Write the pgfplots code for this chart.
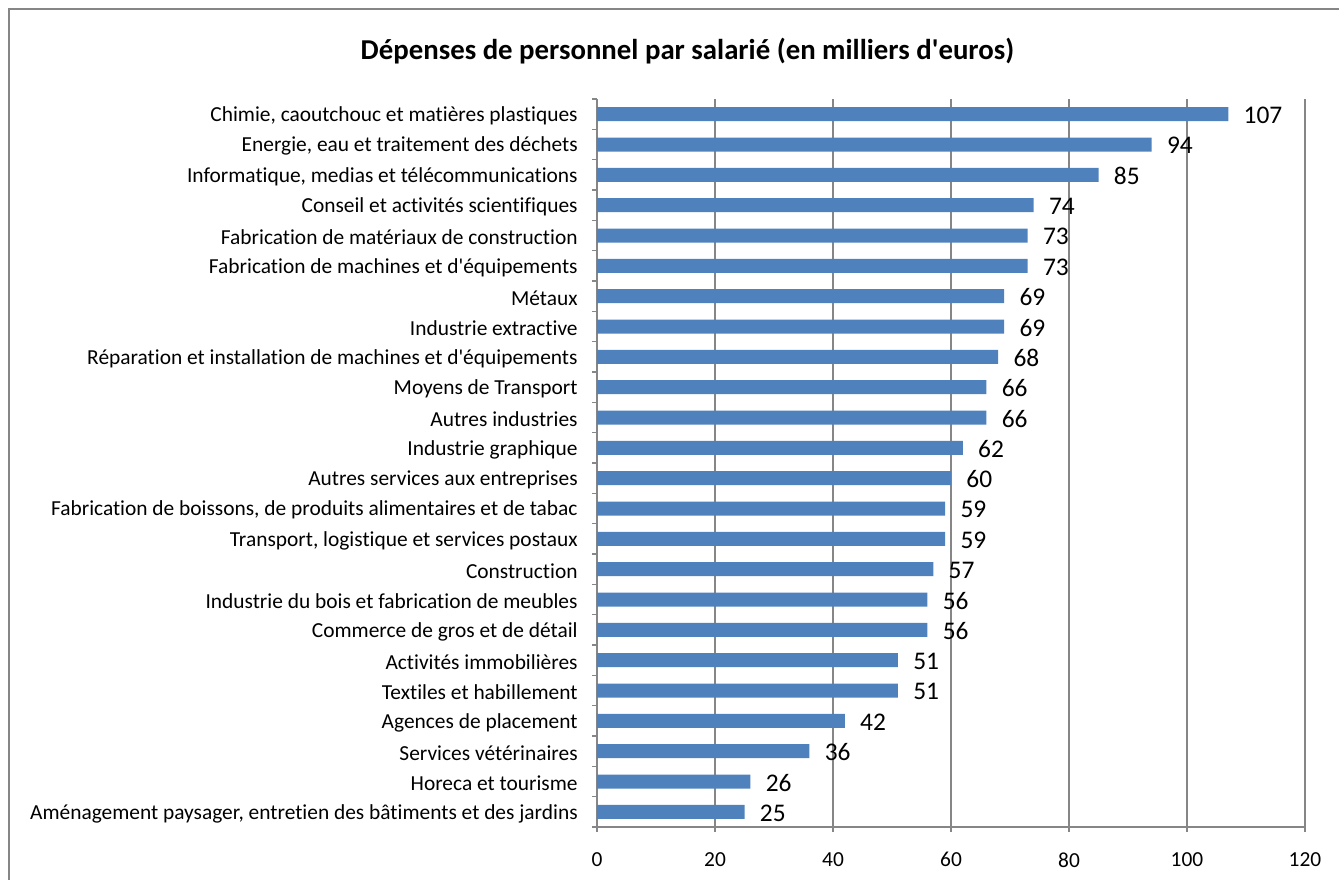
\documentclass[border=0pt]{standalone}
\usepackage{pgfplots}
\pgfplotsset{compat=1.18}
\usepackage{fontspec}
\setmainfont{Carlito}[Ligatures={TeXOff,NoCommon}]
\definecolor{barblue}{RGB}{79,129,189}
\definecolor{axgray}{RGB}{134,134,134}

\begin{document}
\begin{tikzpicture}[x=1pt,y=1pt]
\useasboundingbox (0,0) rectangle (669.5,-439.5);
\draw[axgray, line width=1pt] (4.5,-480) -- (4.5,-4.5) -- (700,-4.5);
\node[font=\fontsize{14.4}{16}\selectfont\bfseries] at (343.75,-25.5) {Dépenses de personnel par salarié (en milliers d'euros)};
\begin{axis}[
  at={(298.5pt,-413.5pt)}, anchor=south west,
  scale only axis, width=354pt, height=364pt,
  xbar, bar width=7pt,
  xmin=0, xmax=120, xtick={0,20,...,120},
  ymin=-0.5, ymax=23.5, y dir=reverse,
  ytick={0,...,23},
  minor ytick={-0.5,0.5,...,23.5},
  yticklabels={
    {Chimie, caoutchouc et matières plastiques},
    {Energie, eau et traitement des déchets},
    {Informatique, medias et télécommunications},
    {Conseil et activités scientifiques},
    {Fabrication de matériaux de construction},
    {Fabrication de machines et d'équipements},
    {Métaux},
    {Industrie extractive},
    {Réparation et installation de machines et d'équipements},
    {Moyens de Transport},
    {Autres industries},
    {Industrie graphique},
    {Autres services aux entreprises},
    {Fabrication de boissons, de produits alimentaires et de tabac},
    {Transport, logistique et services postaux},
    {Construction},
    {Industrie du bois et fabrication de meubles},
    {Commerce de gros et de détail},
    {Activités immobilières},
    {Textiles et habillement},
    {Agences de placement},
    {Services vétérinaires},
    {Horeca et tourisme},
    {Aménagement paysager, entretien des bâtiments et des jardins}},
  axis lines*=left,
  axis line style={axgray, line width=0.8pt, -},
  tick align=outside,
  major tick length=2.5pt, minor tick length=2.5pt,
  every tick/.style={axgray, line width=0.8pt},
  major y tick style={draw=none},
  xmajorgrids, grid style={axgray, line width=0.7pt},
  x tick label style={font=\fontsize{10.7}{12}\selectfont, inner sep=0pt, yshift=-10pt},
  y tick label style={font=\fontsize{10.7}{12}\selectfont, inner sep=0pt, anchor=east, xshift=-7pt, yshift=-0.8pt},
  /pgf/number format/assume math mode=true,
  nodes near coords,
  every node near coord/.append style={anchor=west, inner sep=0pt, xshift=7.5pt, yshift=-0.5pt,
    font=\fontsize{12.7}{14}\selectfont, text=black},
  clip=false,
]
\addplot[fill=barblue, draw=none] coordinates {
  (107,0) (94,1) (85,2) (74,3) (73,4) (73,5) (69,6) (69,7) (68,8) (66,9)
  (66,10) (62,11) (60,12) (59,13) (59,14) (57,15) (56,16) (56,17) (51,18)
  (51,19) (42,20) (36,21) (26,22) (25,23)};
\end{axis}
\end{tikzpicture}
\end{document}
